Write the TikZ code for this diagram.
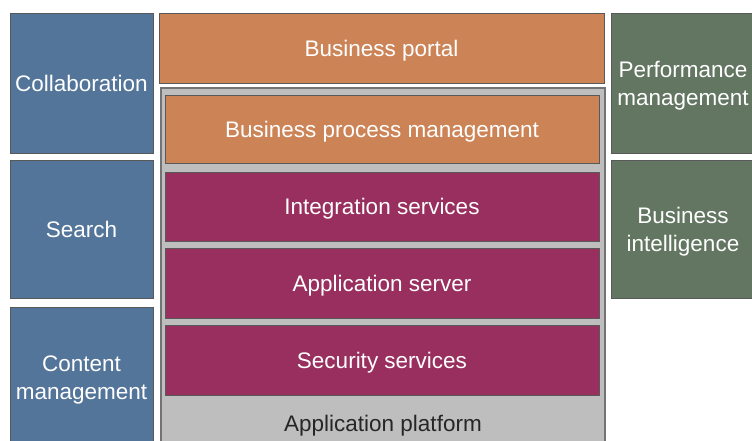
\documentclass[tikz,border=0pt]{standalone}
\usepackage{fontspec}
\setmainfont{Liberation Sans}
\definecolor{suiteblue}{HTML}{54759A}
\definecolor{suiteorange}{HTML}{CC8457}
\definecolor{suitemagenta}{HTML}{982F5E}
\definecolor{suitegreen}{HTML}{637662}
\definecolor{suitegray}{HTML}{BEBEBE}
\tikzset{
  block/.style={draw=black!65, line width=0.7pt, text=white, align=center,
    inner sep=0pt, text depth=0pt, font=\fontsize{22.5}{28}\selectfont},
  sidebox/.style={block, minimum width=143pt},
  layer/.style={block, minimum width=434pt, minimum height=69pt, fill=suitemagenta},
}

\begin{document}
\begin{tikzpicture}[x=1pt,y=-1pt]
  \useasboundingbox (0,0) rectangle (752,440);
  \clip (0,0) rectangle (752,440);

  % left column
  \node[sidebox, fill=suiteblue, minimum height=140pt] (collab) at (81.5,83) {Collaboration};
  \node[sidebox, fill=suiteblue, minimum height=138pt] (search) at (81.5,229) {Search};
  \node[sidebox, fill=suiteblue, minimum height=142pt] (content) at (81.5,378) {Content\\management};

  % middle stack
  \node[block, fill=suiteorange, minimum width=445pt, minimum height=70pt] (portal) at (381.5,48) {Business portal};
  \node[draw=black!55, line width=1.3pt, fill=suitegray, minimum width=444pt, minimum height=360pt,
    inner sep=0pt] (platform) at (383,268) {};
  \node[font=\fontsize{22.5}{28}\selectfont, text depth=0pt, text=black!85] (platformlabel) at (383,423) {Application platform};
  \node[layer, fill=suiteorange, minimum height=68pt] (bpm) at (382,129) {Business process management};
  \node[layer] (integration) at (382,206.5) {Integration services};
  \node[layer, minimum height=70pt] (appserver) at (382,283) {Application server};
  \node[layer, minimum height=70pt] (security) at (382,360) {Security services};

  % right column
  \node[sidebox, fill=suitegreen, minimum width=144pt, minimum height=140pt] (perf) at (683,83) {Performance\\management};
  \node[sidebox, fill=suitegreen, minimum width=144pt, minimum height=138pt] (bi) at (683,229) {Business\\intelligence};
\end{tikzpicture}
\end{document}
